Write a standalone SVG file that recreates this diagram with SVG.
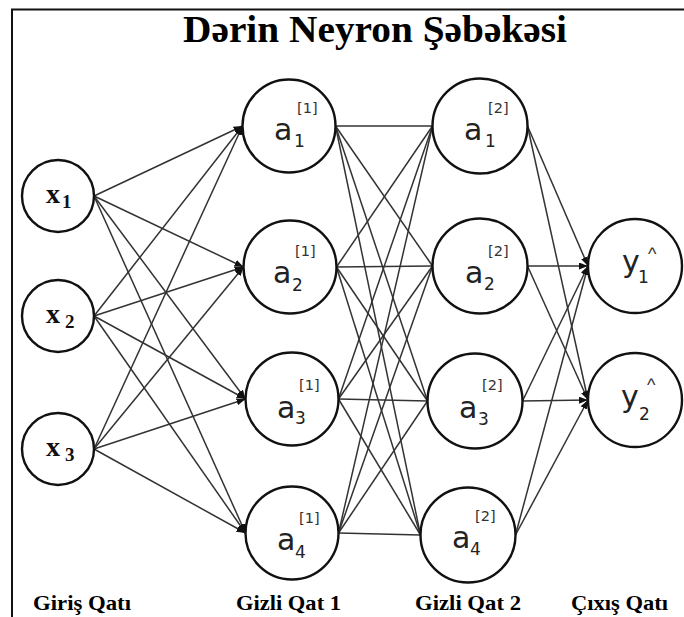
<svg xmlns="http://www.w3.org/2000/svg" width="684" height="617" viewBox="0 0 684 617">
  <defs>
    <marker id="arrow" markerUnits="userSpaceOnUse" markerWidth="9" markerHeight="7" refX="9" refY="3.5" orient="auto">
      <path d="M0,0 L9,3.5 L0,7 z" fill="#111"/>
    </marker>
    <style>
      .node { fill: #fff; stroke: #111; stroke-width: 2.4; }
      .edge { stroke: #333; stroke-width: 1.5; fill: none; }
      .arr { marker-end: url(#arrow); }
      .title { font-family: "Liberation Serif", "Times New Roman", serif; font-weight: bold; font-size: 38px; fill: #000; }
      .layer { font-family: "Liberation Serif", "Times New Roman", serif; font-weight: bold; font-size: 22px; fill: #000; }
      .xin { font-family: "Liberation Serif", "Times New Roman", serif; font-weight: bold; font-size: 28px; fill: #111; }
      .xsub { font-family: "Liberation Serif", "Times New Roman", serif; font-weight: bold; font-size: 19px; fill: #111; }
      .var { font-family: "DejaVu Sans", sans-serif; font-size: 30px; fill: #222; }
      .sub { font-family: "DejaVu Sans", sans-serif; font-size: 17px; fill: #222; }
      .sup { font-family: "DejaVu Sans", sans-serif; font-size: 14.5px; fill: #333; }
      .hat { font-family: "Liberation Sans", Arial, sans-serif; font-size: 18px; fill: #333; }
    </style>
  </defs>

  <rect width="684" height="617" fill="#fff"/>
  <!-- frame: top and left edges only -->
  <path d="M684,9.5 H12 V617" fill="none" stroke="#111" stroke-width="2"/>

  <text class="title" x="183" y="42" textLength="384" lengthAdjust="spacingAndGlyphs">Dərin Neyron Şəbəkəsi</text>

  <g id="connectors">
    <!-- input layer to hidden layer 1 -->
    <g class="edge arr">
      <line x1="94" y1="196" x2="242.5" y2="126"/>
      <line x1="94" y1="196" x2="243.5" y2="267"/>
      <line x1="94" y1="196" x2="245.5" y2="399"/>
      <line x1="94" y1="196" x2="245.5" y2="533"/>
      <line x1="94" y1="316" x2="242.5" y2="126"/>
      <line x1="94" y1="316" x2="243.5" y2="267"/>
      <line x1="94" y1="316" x2="245.5" y2="399"/>
      <line x1="94" y1="316" x2="245.5" y2="533"/>
      <line x1="94" y1="449" x2="242.5" y2="126"/>
      <line x1="94" y1="449" x2="243.5" y2="267"/>
      <line x1="94" y1="449" x2="245.5" y2="399"/>
      <line x1="94" y1="449" x2="245.5" y2="533"/>
    </g>
    <!-- hidden layer 1 to hidden layer 2 -->
    <g class="edge">
      <line x1="335.5" y1="126" x2="432.5" y2="126"/>
      <line x1="335.5" y1="126" x2="432.5" y2="266"/>
      <line x1="335.5" y1="126" x2="427.5" y2="401"/>
      <line x1="335.5" y1="126" x2="420.5" y2="535"/>
      <line x1="336.5" y1="267" x2="432.5" y2="126"/>
      <line x1="336.5" y1="267" x2="432.5" y2="266"/>
      <line x1="336.5" y1="267" x2="427.5" y2="401"/>
      <line x1="336.5" y1="267" x2="420.5" y2="535"/>
      <line x1="338.5" y1="399" x2="432.5" y2="126"/>
      <line x1="338.5" y1="399" x2="432.5" y2="266"/>
      <line x1="338.5" y1="399" x2="427.5" y2="401"/>
      <line x1="338.5" y1="399" x2="420.5" y2="535"/>
      <line x1="338.5" y1="533" x2="432.5" y2="126"/>
      <line x1="338.5" y1="533" x2="432.5" y2="266"/>
      <line x1="338.5" y1="533" x2="427.5" y2="401"/>
      <line x1="338.5" y1="533" x2="420.5" y2="535"/>
    </g>
    <!-- hidden layer 2 to output layer -->
    <g class="edge arr">
      <line x1="527.5" y1="126" x2="588" y2="266"/>
      <line x1="527.5" y1="126" x2="588" y2="400"/>
      <line x1="527.5" y1="266" x2="588" y2="266"/>
      <line x1="527.5" y1="266" x2="588" y2="400"/>
      <line x1="522.5" y1="401" x2="588" y2="266"/>
      <line x1="522.5" y1="401" x2="588" y2="400"/>
      <line x1="515.5" y1="535" x2="588" y2="266"/>
      <line x1="515.5" y1="535" x2="588" y2="400"/>
    </g>
  </g>

  <!-- input layer -->
  <g id="x1">
    <circle class="node" cx="58" cy="196" r="36"/>
    <text class="xin" x="46" y="203">x</text><text class="xsub" x="62" y="208">1</text>
  </g>
  <g id="x2">
    <circle class="node" cx="58" cy="316" r="36"/>
    <text class="xin" x="46" y="323">x</text><text class="xsub" x="65" y="328">2</text>
  </g>
  <g id="x3">
    <circle class="node" cx="58" cy="449" r="36"/>
    <text class="xin" x="46" y="456">x</text><text class="xsub" x="65" y="461">3</text>
  </g>

  <!-- hidden layer 1 -->
  <g id="h1_1">
    <circle class="node" cx="289" cy="126" r="46.5"/>
    <text class="var" x="274" y="140">a</text><text class="sub" x="294" y="147">1</text><text class="sup" x="297" y="113">[1]</text>
  </g>
  <g id="h1_2">
    <circle class="node" cx="290" cy="267" r="46.5"/>
    <text class="var" x="273" y="283">a</text><text class="sub" x="292" y="291">2</text><text class="sup" x="295" y="256">[1]</text>
  </g>
  <g id="h1_3">
    <circle class="node" cx="292" cy="399" r="46.5"/>
    <text class="var" x="277" y="418">a</text><text class="sub" x="295" y="424">3</text><text class="sup" x="299" y="390">[1]</text>
  </g>
  <g id="h1_4">
    <circle class="node" cx="292" cy="533" r="46.5"/>
    <text class="var" x="277" y="550">a</text><text class="sub" x="295" y="558">4</text><text class="sup" x="299" y="523">[1]</text>
  </g>

  <!-- hidden layer 2 -->
  <g id="h2_1">
    <circle class="node" cx="480" cy="126" r="47.5"/>
    <text class="var" x="464" y="140">a</text><text class="sub" x="485" y="147">1</text><text class="sup" x="488" y="113">[2]</text>
  </g>
  <g id="h2_2">
    <circle class="node" cx="480" cy="266" r="47.5"/>
    <text class="var" x="465" y="283">a</text><text class="sub" x="484" y="290">2</text><text class="sup" x="488" y="256">[2]</text>
  </g>
  <g id="h2_3">
    <circle class="node" cx="475" cy="401" r="47.5"/>
    <text class="var" x="459" y="418">a</text><text class="sub" x="478" y="425">3</text><text class="sup" x="482" y="390">[2]</text>
  </g>
  <g id="h2_4">
    <circle class="node" cx="468" cy="535" r="47.5"/>
    <text class="var" x="452" y="548">a</text><text class="sub" x="470" y="555">4</text><text class="sup" x="475" y="521">[2]</text>
  </g>

  <!-- output layer -->
  <g id="y1">
    <circle class="node" cx="635" cy="266" r="47"/>
    <text class="var" x="622" y="272">y</text><text class="sub" x="638" y="283">1</text><text class="hat" x="648" y="260">^</text>
  </g>
  <g id="y2">
    <circle class="node" cx="635" cy="400" r="47"/>
    <text class="var" x="621" y="407">y</text><text class="sub" x="639" y="420">2</text><text class="hat" x="647" y="391">^</text>
  </g>

  <!-- layer captions -->
  <text class="layer" x="33" y="610" textLength="98" lengthAdjust="spacingAndGlyphs">Giriş Qatı</text>
  <text class="layer" x="236" y="610" textLength="105" lengthAdjust="spacingAndGlyphs">Gizli Qat 1</text>
  <text class="layer" x="415" y="610" textLength="106" lengthAdjust="spacingAndGlyphs">Gizli Qat 2</text>
  <text class="layer" x="571" y="610" textLength="97" lengthAdjust="spacingAndGlyphs">Çıxış Qatı</text>
</svg>
